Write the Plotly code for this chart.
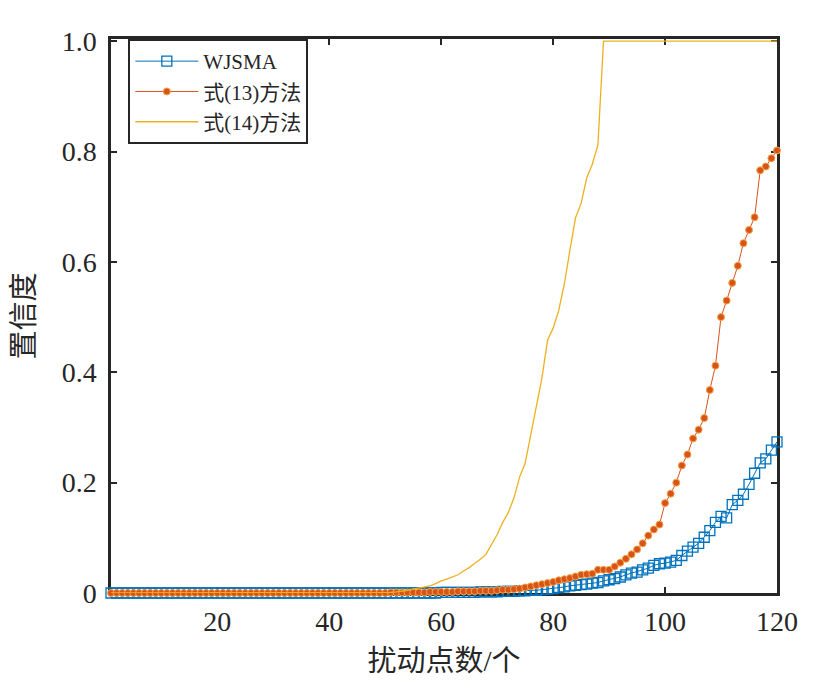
import plotly.graph_objects as go

# 扰动点数 1..120
perturb_points = list(range(1, 121))

wjsma = [
    0, 0, 0, 0, 0, 0, 0, 0, 0, 0,
    0, 0, 0, 0, 0, 0, 0, 0, 0, 0,
    0, 0, 0, 0, 0, 0, 0, 0, 0, 0,
    0, 0, 0, 0, 0, 0, 0, 0, 0, 0,
    0, 0, 0, 0, 0, 0, 0, 0, 0, 0,
    0, 0, 0, 0, 0, 0, 0, 0, 0, 0.001,
    0.001, 0.001, 0.001, 0.001, 0.001, 0.001, 0.002, 0.002, 0.002, 0.002,
    0.003, 0.003, 0.003, 0.004, 0.004, 0.005, 0.005, 0.006, 0.007, 0.008,
    0.010, 0.011, 0.013, 0.014, 0.015, 0.016, 0.018, 0.019, 0.022, 0.024,
    0.026, 0.029, 0.033, 0.036, 0.038, 0.042, 0.045, 0.050, 0.053, 0.054,
    0.056, 0.059, 0.068, 0.076, 0.083, 0.090, 0.101, 0.113, 0.128, 0.139,
    0.136, 0.160, 0.168, 0.179, 0.197, 0.217, 0.236, 0.243, 0.259, 0.274,
]

method_13 = [
    0, 0, 0, 0, 0, 0, 0, 0, 0, 0,
    0, 0, 0, 0, 0, 0, 0, 0, 0, 0,
    0, 0, 0, 0, 0, 0, 0, 0, 0, 0,
    0, 0, 0, 0, 0, 0, 0, 0, 0, 0,
    0, 0, 0, 0, 0, 0, 0, 0, 0, 0,
    0.001, 0.001, 0.001, 0.001, 0.001, 0.001, 0.001, 0.002, 0.002, 0.002,
    0.002, 0.002, 0.003, 0.003, 0.003, 0.003, 0.004, 0.004, 0.004, 0.005,
    0.006, 0.006, 0.007, 0.008, 0.010, 0.012, 0.014, 0.016, 0.018, 0.020,
    0.023, 0.025, 0.027, 0.030, 0.033, 0.034, 0.035, 0.042, 0.042, 0.042,
    0.048, 0.055, 0.062, 0.070, 0.079, 0.090, 0.104, 0.115, 0.124, 0.163,
    0.180, 0.200, 0.231, 0.251, 0.280, 0.296, 0.317, 0.368, 0.412, 0.500,
    0.530, 0.562, 0.593, 0.634, 0.658, 0.681, 0.766, 0.773, 0.788, 0.802,
]

method_14 = [
    0, 0, 0, 0, 0, 0, 0, 0, 0, 0,
    0, 0, 0, 0, 0, 0, 0, 0, 0, 0,
    0, 0, 0, 0, 0, 0, 0, 0, 0, 0,
    0, 0, 0, 0, 0, 0, 0, 0, 0, 0,
    0, 0, 0, 0, 0, 0, 0, 0, 0, 0.001,
    0.001, 0.002, 0.003, 0.005, 0.007, 0.009, 0.011, 0.013, 0.017, 0.022,
    0.025, 0.029, 0.033, 0.040, 0.046, 0.054, 0.061, 0.070, 0.087, 0.106,
    0.128, 0.146, 0.172, 0.210, 0.235, 0.285, 0.335, 0.390, 0.458, 0.480,
    0.512, 0.560, 0.621, 0.680, 0.706, 0.752, 0.777, 0.812, 1.0, 1.0,
    1.0, 1.0, 1.0, 1.0, 1.0, 1.0, 1.0, 1.0, 1.0, 1.0,
    1.0, 1.0, 1.0, 1.0, 1.0, 1.0, 1.0, 1.0, 1.0, 1.0,
    1.0, 1.0, 1.0, 1.0, 1.0, 1.0, 1.0, 1.0, 1.0, 1.0,
]

x_ticks = [20, 40, 60, 80, 100, 120]
y_ticks = [0, 0.2, 0.4, 0.6, 0.8, 1.0]
y_tick_text = ["0", "0.2", "0.4", "0.6", "0.8", "1.0"]

FONT = "Liberation Serif, Times New Roman, Noto Sans CJK SC"
AXIS_COLOR = "#262626"

fig = go.Figure()

fig.add_trace(go.Scatter(
    x=perturb_points, y=wjsma, name="WJSMA", mode="lines+markers",
    line=dict(color="#0072BD", width=1),
    marker=dict(symbol="square-open", size=10, color="#0072BD",
                line=dict(width=1.3, color="#0072BD")),
    cliponaxis=False,
))
fig.add_trace(go.Scatter(
    x=perturb_points, y=method_13, name="式(13)方法", mode="lines+markers",
    line=dict(color="#D95319", width=1),
    marker=dict(symbol="circle", size=7, color="#D95319",
                line=dict(width=1, color="#F2A54A")),
    cliponaxis=False,
))
fig.add_trace(go.Scatter(
    x=perturb_points, y=method_14, name="式(14)方法", mode="lines",
    line=dict(color="#EDB120", width=1.3),
    cliponaxis=False,
))

axis_common = dict(
    showline=True, linecolor=AXIS_COLOR, linewidth=2.5, mirror="ticks",
    ticks="inside", ticklen=6, tickwidth=2, tickcolor=AXIS_COLOR,
    showgrid=False, zeroline=False, automargin=False, layer="below traces",
    tickfont=dict(family=FONT, size=28, color="#262626"),
)

fig.update_xaxes(
    range=[1, 120], tickvals=x_ticks, ticklabelstandoff=2,
    title=dict(text="扰动点数/个", font=dict(family=FONT, size=29, color="#262626"),
               standoff=15),
    **axis_common,
)
# 上限略大于1，让式(14)在1.0处的水平线不被裁掉
fig.update_yaxes(
    range=[0, 1.004], tickvals=y_ticks, ticktext=y_tick_text, ticklabelstandoff=6,
    title=dict(text="置信度", font=dict(family=FONT, size=29, color="#262626"),
               standoff=19),
    **axis_common,
)

# 页面 body 自带 8px 边距，画布相应缩小
fig.update_layout(
    width=811, height=684,
    margin=dict(l=103, r=42, t=31, b=99),
    paper_bgcolor="white", plot_bgcolor="white",
    showlegend=True,
    legend=dict(
        x=0.026, y=1, xanchor="left", yanchor="top",
        bgcolor="white", bordercolor=AXIS_COLOR, borderwidth=2,
        font=dict(family=FONT, size=21, color="#262626"),
        itemwidth=63, tracegroupgap=0,
    ),
)

fig.write_html("out.html")
